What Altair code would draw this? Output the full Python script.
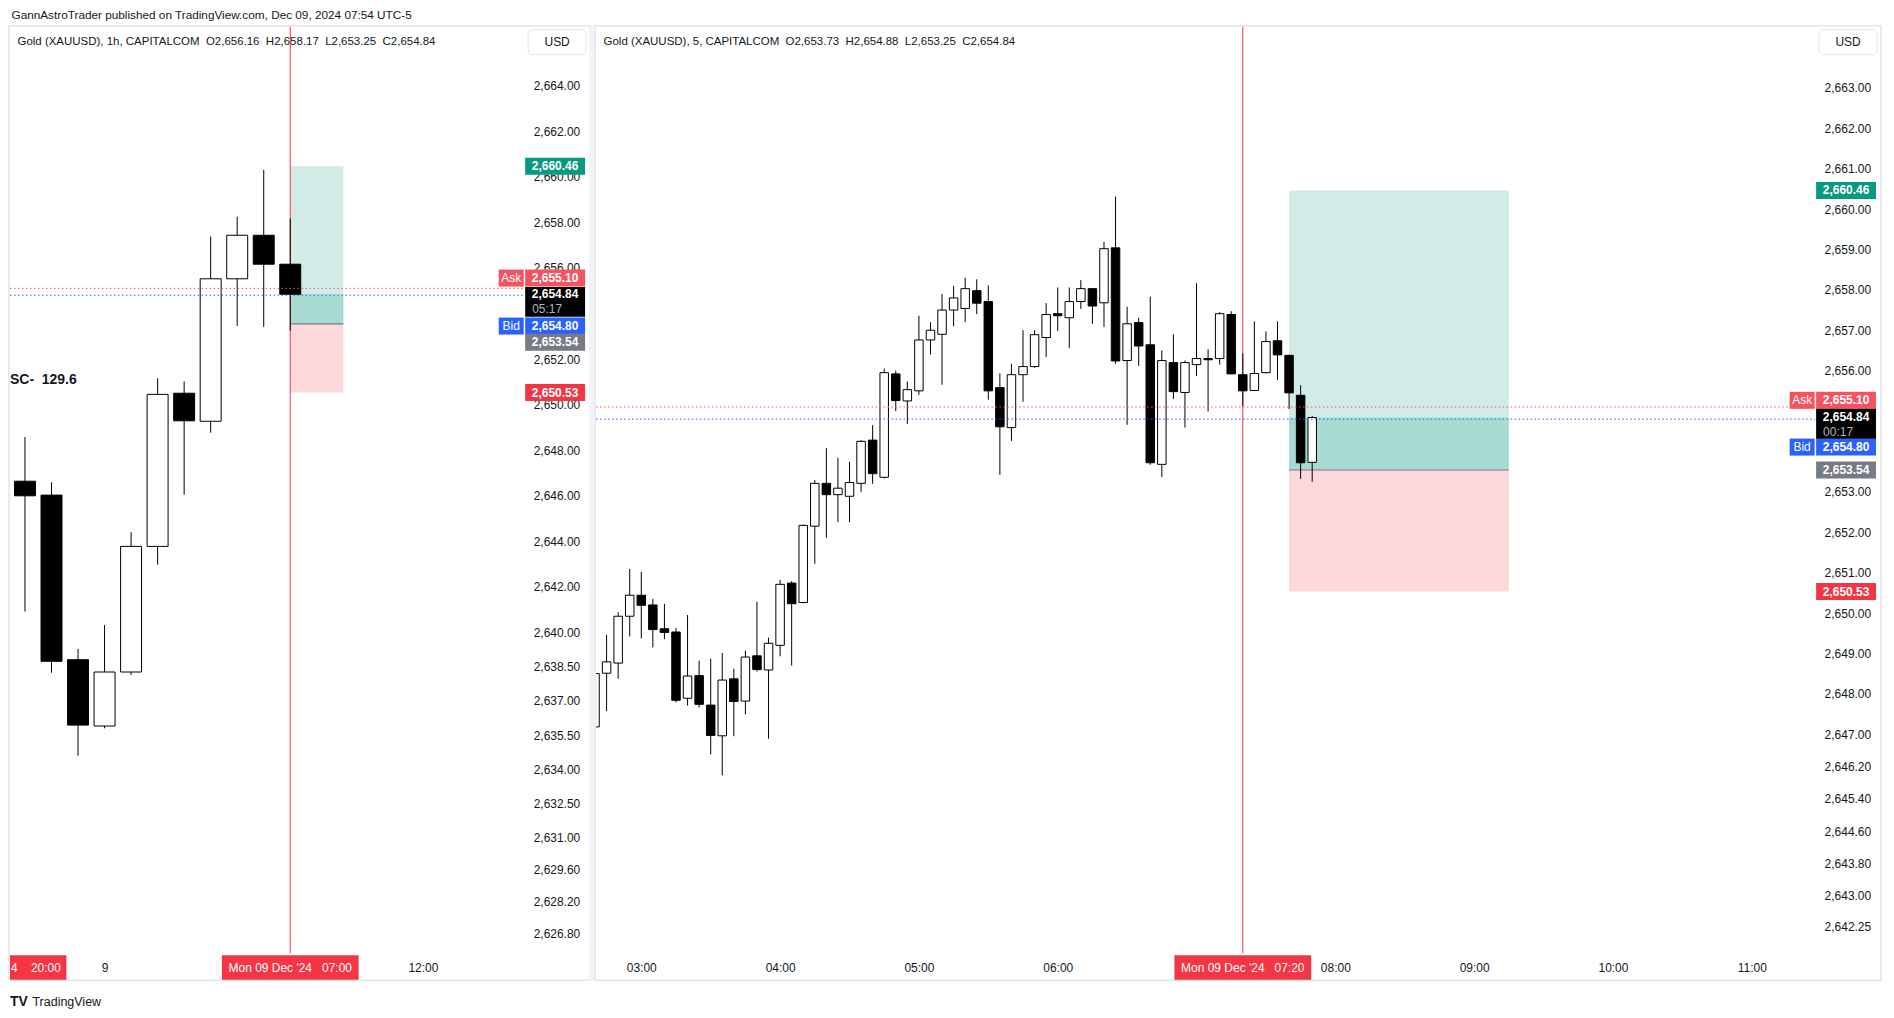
import altair as alt
import pandas as pd

FONT = "Liberation Sans"
INK = "#131722"
BORDER = "#e0e3eb"
SP = "\u00a0"

TOP_TEXT = "GannAstroTrader published on TradingView.com, Dec 09, 2024 07:54 UTC-5"
LEFT_HEADER = ("Gold (XAUUSD), 1h, CAPITALCOM" + SP * 2 + "O2,656.16" + SP * 2 + "H2,658.17" + SP * 2
               + "L2,653.25" + SP * 2 + "C2,654.84")
RIGHT_HEADER = ("Gold (XAUUSD), 5, CAPITALCOM" + SP * 2 + "O2,653.73" + SP * 2 + "H2,654.88" + SP * 2
                + "L2,653.25" + SP * 2 + "C2,654.84")

# ---------------- 1h candles ----------------
H1_TIME = ["2024-12-08T21:00:00", "2024-12-08T22:00:00", "2024-12-08T23:00:00",
           "2024-12-09T00:00:00", "2024-12-09T01:00:00", "2024-12-09T02:00:00",
           "2024-12-09T03:00:00", "2024-12-09T04:00:00", "2024-12-09T05:00:00",
           "2024-12-09T06:00:00", "2024-12-09T07:00:00"]
H1_OPEN = [2646.64, 2646.03, 2638.81, 2635.90, 2638.27, 2643.78, 2650.50, 2649.27, 2655.52, 2657.43, 2656.16]
H1_HIGH = [2648.58, 2646.59, 2639.28, 2640.33, 2644.40, 2651.16, 2651.02, 2657.38, 2658.24, 2660.30, 2658.17]
H1_LOW = [2640.92, 2638.24, 2634.60, 2635.80, 2638.15, 2642.98, 2646.05, 2648.77, 2653.45, 2653.41, 2653.25]
H1_CLOSE = [2646.00, 2638.74, 2635.94, 2638.27, 2643.78, 2650.45, 2649.29, 2655.52, 2657.43, 2656.16, 2654.84]

# ---------------- 5m candles ----------------
M5_TIME = ["02:40", "02:45", "02:50", "02:55", "03:00", "03:05", "03:10", "03:15", "03:20", "03:25",
           "03:30", "03:35", "03:40", "03:45", "03:50", "03:55", "04:00", "04:05", "04:10", "04:15",
           "04:20", "04:25", "04:30", "04:35", "04:40", "04:45", "04:50", "04:55", "05:00", "05:05",
           "05:10", "05:15", "05:20", "05:25", "05:30", "05:35", "05:40", "05:45", "05:50", "05:55",
           "06:00", "06:05", "06:10", "06:15", "06:20", "06:25", "06:30", "06:35", "06:40", "06:45",
           "06:50", "06:55", "07:00", "07:05", "07:10", "07:15", "07:20", "07:25", "07:30", "07:35",
           "07:40", "07:45", "07:50"]
M5_OPEN = [2647.18, 2648.51, 2648.76, 2649.92, 2650.44, 2650.20, 2649.61, 2649.53, 2647.89, 2648.45,
           2647.72, 2646.96, 2648.37, 2647.82, 2648.94, 2648.59, 2649.20, 2650.74, 2650.26, 2652.15,
           2653.21, 2652.93, 2652.89, 2653.21, 2654.28, 2653.36, 2655.92, 2655.25, 2655.50, 2656.76,
           2656.90, 2657.50, 2657.54, 2657.98, 2657.71, 2655.58, 2654.59, 2655.90, 2656.10, 2656.82,
           2657.41, 2657.31, 2657.71, 2658.03, 2657.68, 2659.04, 2656.25, 2657.19, 2656.64, 2653.68,
           2656.20, 2655.46, 2656.15, 2656.30, 2656.30, 2657.39, 2655.90, 2655.51, 2655.95, 2656.74,
           2656.38, 2655.39, 2653.73]
M5_HIGH = [2648.70, 2649.46, 2650.02, 2651.09, 2651.02, 2650.35, 2650.23, 2649.63, 2649.95, 2648.82,
           2648.87, 2649.01, 2648.62, 2649.07, 2650.28, 2649.39, 2650.82, 2650.79, 2652.19, 2653.29,
           2654.08, 2653.84, 2653.74, 2654.28, 2654.65, 2656.05, 2656.00, 2655.73, 2657.36, 2657.20,
           2657.90, 2658.10, 2658.30, 2658.26, 2658.11, 2655.93, 2656.17, 2657.00, 2657.00, 2657.67,
           2658.06, 2658.06, 2658.24, 2658.03, 2659.19, 2660.31, 2657.58, 2657.31, 2657.83, 2656.50,
           2656.90, 2656.25, 2658.16, 2656.53, 2657.45, 2657.47, 2656.43, 2657.22, 2656.97, 2657.22,
           2656.38, 2655.64, 2654.88]
M5_LOW = [2646.90, 2647.57, 2648.37, 2649.42, 2649.37, 2649.15, 2649.35, 2647.79, 2647.71, 2647.66,
          2646.50, 2645.98, 2646.95, 2647.49, 2648.55, 2646.89, 2648.93, 2648.70, 2650.24, 2651.22,
          2651.86, 2652.25, 2652.25, 2653.00, 2653.20, 2653.33, 2655.00, 2654.68, 2655.40, 2656.40,
          2655.65, 2657.10, 2657.20, 2657.40, 2655.28, 2653.42, 2654.26, 2655.23, 2656.07, 2656.34,
          2656.98, 2656.56, 2657.53, 2657.16, 2657.08, 2656.17, 2654.66, 2656.12, 2653.67, 2653.37,
          2655.30, 2654.59, 2655.87, 2654.99, 2656.15, 2655.92, 2655.13, 2655.51, 2655.93, 2655.77,
          2655.05, 2653.32, 2653.25]
M5_CLOSE = [2648.50, 2648.79, 2649.92, 2650.44, 2650.19, 2649.59, 2649.52, 2647.84, 2648.44, 2647.74,
            2646.97, 2648.34, 2647.81, 2648.91, 2648.60, 2649.25, 2650.71, 2650.23, 2652.17, 2653.21,
            2652.93, 2653.09, 2653.23, 2654.25, 2653.45, 2655.95, 2655.26, 2655.53, 2656.76, 2657.00,
            2657.50, 2657.80, 2658.03, 2657.67, 2655.50, 2654.61, 2655.90, 2656.10, 2656.89, 2657.39,
            2657.36, 2657.71, 2658.03, 2657.60, 2659.02, 2656.24, 2657.16, 2656.61, 2653.72, 2656.25,
            2655.48, 2656.20, 2656.30, 2656.27, 2657.41, 2655.92, 2655.50, 2655.93, 2656.72, 2656.39,
            2655.45, 2653.72, 2654.84]

# ---------------- price levels ----------------
TP = 2660.46
ENTRY = 2653.54
SL = 2650.53
ASK = 2655.10
BID = 2654.80
LAST = 2654.84

LEFT_YTICKS = [2664.0, 2662.0, 2660.0, 2658.0, 2656.0, 2652.0, 2650.0, 2648.0, 2646.0,
               2644.0, 2642.0, 2640.0, 2638.5, 2637.0, 2635.5, 2634.0, 2632.5, 2631.0, 2629.6,
               2628.2, 2626.8]
RIGHT_YTICKS = [2663.0, 2662.0, 2661.0, 2660.0, 2659.0, 2658.0, 2657.0, 2656.0,
                2653.0, 2652.0, 2651.0, 2650.0, 2649.0, 2648.0, 2647.0, 2646.2, 2645.4, 2644.6,
                2643.8, 2643.0, 2642.25]


def dt(d, h, m=0, s=0):
    return alt.DateTime(year=2024, month=12, date=d, hours=h, minutes=m, seconds=s)


LEFT_XTICKS = [dt(9, 0), dt(9, 12)]
RIGHT_XTICKS = [dt(9, 3), dt(9, 4), dt(9, 5), dt(9, 6), dt(9, 8), dt(9, 9), dt(9, 10), dt(9, 11)]

one = pd.DataFrame({"k": [0]})


def level_df(price):
    return pd.DataFrame({"p": [price]})


def panel(times, O, Hi, Lo, C, W, H, xdom, ydom, bw, xticks, yticks, lexpr,
          box_start, box_end, vline_t, vline_label, countdown,
          dy_ask, dy_bid, dy_entry, dy_last, header, extra):
    xsc = alt.Scale(domain=xdom, nice=False, padding=0)
    ysc = alt.Scale(domain=ydom, nice=False, zero=False, padding=0)
    xaxis = alt.Axis(values=xticks, labelExpr=lexpr, title=None, ticks=False, tickSize=0, domain=False,
                     grid=False, labelPadding=14.5, labelBaseline="middle", labelFont=FONT, labelFontSize=12,
                     labelColor=INK, labelFlush=False, labelOverlap=False)
    yaxis = alt.Axis(values=yticks, orient="right", format=",.2f", title=None, ticks=False, tickSize=0,
                     domain=False, grid=False, labelPadding=9, labelAlign="left", labelBaseline="middle",
                     labelFont=FONT, labelFontSize=12, labelColor=INK, labelFlush=False, labelOverlap=False)
    cdf = pd.DataFrame({"t": times, "open": O, "high": Hi, "low": Lo, "close": C})
    X = lambda f: alt.X(f, type="temporal", scale=xsc, axis=xaxis)
    Y = lambda f: alt.Y(f, type="quantitative", scale=ysc, axis=yaxis)

    layers = []
    # panel border (no fill, so the axes stay visible)
    layers.append(alt.Chart(one).mark_rect(fill="white", fillOpacity=0, stroke=BORDER, strokeWidth=1.5).encode(
        x=alt.value(-1), x2=alt.value(W + 66), y=alt.value(-1), y2=alt.value(H + 27)))

    # position boxes
    bdf = pd.DataFrame({"s": [box_start] * 4, "e": [box_end] * 4,
                        "lo": [ENTRY, SL, ENTRY, ENTRY], "hi": [TP, ENTRY, LAST, ENTRY],
                        "c": ["tp", "sl", "ov", "en"]})
    layers.append(alt.Chart(bdf).transform_filter("datum.c != 'en'").mark_rect(clip=True).encode(
        x=X("s"), x2="e:T", y=Y("lo"), y2="hi:Q",
        fill=alt.Fill("c:N", scale=alt.Scale(domain=["tp", "sl", "ov"],
                                              range=["#d1ece6", "#fcd8db", "#a7dbd2"]), legend=None)))
    layers.append(alt.Chart(bdf).transform_filter("datum.c == 'en'").mark_rule(
        color="#787b86", strokeWidth=1.2, clip=True).encode(x=X("s"), x2="e:T", y=Y("lo")))

    # vertical red line
    layers.append(alt.Chart(pd.DataFrame({"t": [vline_t]})).mark_rule(color="#f23645", strokeWidth=1).encode(
        x=X("t")))

    # candles
    layers.append(alt.Chart(cdf).mark_rule(color="#000000", strokeWidth=1, clip=True).encode(
        x=X("t"), y=Y("low"), y2="high:Q"))
    layers.append(alt.Chart(cdf).mark_bar(size=bw, stroke="#000000", strokeWidth=1, clip=True,
                                          opacity=1).encode(
        x=X("t"), y=Y("open"), y2="close:Q",
        fill=alt.condition(alt.datum.close < alt.datum.open, alt.value("#000000"), alt.value("#ffffff"))))

    # ask / bid dotted lines
    layers.append(alt.Chart(level_df(ASK)).mark_rule(color="#f7525f", strokeWidth=1, strokeDash=[1.5, 2.5]).encode(
        y=Y("p"), x=alt.value(0), x2=alt.value(W)))
    layers.append(alt.Chart(level_df(BID)).mark_rule(color="#2962ff", strokeWidth=1, strokeDash=[1.5, 2.5]).encode(
        y=Y("p"), x=alt.value(0), x2=alt.value(W)))

    # in-plot Ask / Bid labels
    for price, dyv, col, txt in [(ASK, dy_ask, "#f7525f", "Ask"), (BID, dy_bid, "#2962ff", "Bid")]:
        layers.append(alt.Chart(level_df(price)).mark_tick(size=25, thickness=17, yOffset=dyv, opacity=1,
                                                           color=col).encode(y=Y("p"), x=alt.value(W - 13)))
        layers.append(alt.Chart(level_df(price)).mark_text(font=FONT, fontSize=12, color="white", dy=dyv,
                                                           baseline="middle").encode(
            y=Y("p"), x=alt.value(W - 13), text=alt.value(txt)))

    # price tags on the axis
    tags = [(TP, 0, "#089981", "2,660.46"), (SL, 0, "#f23645", "2,650.53"),
            (ASK, dy_ask, "#f7525f", "2,655.10"), (BID, dy_bid, "#2962ff", "2,654.80"),
            (ENTRY, dy_entry, "#787b86", "2,653.54")]
    for price, dyv, col, txt in tags:
        layers.append(alt.Chart(level_df(price)).mark_tick(size=60, thickness=17, yOffset=dyv, opacity=1,
                                                           color=col).encode(y=Y("p"), x=alt.value(W + 31)))
        layers.append(alt.Chart(level_df(price)).mark_text(font=FONT, fontSize=12, fontWeight="bold",
                                                           color="white", dy=dyv, baseline="middle").encode(
            y=Y("p"), x=alt.value(W + 31), text=alt.value(txt)))
    layers.append(alt.Chart(level_df(LAST)).mark_tick(size=60, thickness=30, yOffset=dy_last, opacity=1,
                                                      color="#000000").encode(y=Y("p"), x=alt.value(W + 31)))
    layers.append(alt.Chart(level_df(LAST)).mark_text(font=FONT, fontSize=12, fontWeight="bold",
                                                      color="white", baseline="middle").encode(
        y=Y("p"), x=alt.value(W + 31), text=alt.value("2,654.84")))
    layers.append(alt.Chart(level_df(LAST)).mark_text(font=FONT, fontSize=12, color="#b2b5be", dy=14.5,
                                                      align="left", baseline="middle").encode(
        y=Y("p"), x=alt.value(W + 8), text=alt.value(countdown)))

    # red time label on the time axis
    shape = "M-1,-0.1788L1,-0.1788L1,0.1788L-1,0.1788Z"
    layers.append(alt.Chart(pd.DataFrame({"t": [vline_t]})).mark_point(
        shape=shape, size=18769, filled=True, opacity=1, color="#f23645", strokeWidth=0).encode(
        x=X("t"), y=alt.value(H + 14.2)))
    layers.append(alt.Chart(pd.DataFrame({"t": [vline_t]})).mark_text(
        font=FONT, fontSize=12, color="white", baseline="middle").encode(
        x=X("t"), y=alt.value(H + 14.5), text=alt.value(vline_label)))

    # header + USD button
    layers.append(alt.Chart(one).mark_text(font=FONT, fontSize=11.5, color=INK, align="left",
                                           baseline="middle").encode(
        x=alt.value(7.5), y=alt.value(15), text=alt.value(header)))
    layers.append(alt.Chart(one).mark_rect(fill="white", stroke=BORDER, strokeWidth=1, cornerRadius=4).encode(
        x=alt.value(W + 4), x2=alt.value(W + 62), y=alt.value(3), y2=alt.value(28)))
    layers.append(alt.Chart(one).mark_text(font=FONT, fontSize=12, color=INK, baseline="middle").encode(
        x=alt.value(W + 33), y=alt.value(15.5), text=alt.value("USD")))

    layers += extra(W, H)
    return alt.layer(*layers).properties(width=W, height=H)


def left_extra(W, H):
    return [
        alt.Chart(one).mark_text(font=FONT, fontSize=11.8, color=INK, align="left", baseline="middle").encode(
            x=alt.value(1.5), y=alt.value(-12), text=alt.value(TOP_TEXT)),
        alt.Chart(one).mark_text(font=FONT, fontSize=14, fontWeight="bold", color=INK, align="left",
                                 baseline="middle").encode(
            x=alt.value(0), y=alt.value(354), text=alt.value("SC-" + SP * 2 + "129.6")),
        alt.Chart(one).mark_rect(fill="#f23645").encode(
            x=alt.value(0), x2=alt.value(56.5), y=alt.value(H + 2), y2=alt.value(H + 26.5)),
        alt.Chart(one).mark_text(font=FONT, fontSize=12, color="white", align="left", baseline="middle").encode(
            x=alt.value(1), y=alt.value(H + 14.5), text=alt.value("4" + SP * 4 + "20:00")),
        alt.Chart(one).mark_text(font=FONT, fontSize=14, fontWeight="bold", color=INK, align="left",
                                 baseline="middle").encode(
            x=alt.value(0), y=alt.value(H + 48.5), text=alt.value("TV")),
        alt.Chart(one).mark_text(font=FONT, fontSize=12.5, color=INK, align="left", baseline="middle").encode(
            x=alt.value(22.5), y=alt.value(H + 48.5), text=alt.value("TradingView")),
    ]


def right_extra(W, H):
    return [
        alt.Chart(one).mark_rect(fill="#f0f3fa").encode(
            x=alt.value(-7), x2=alt.value(-1.5), y=alt.value(-1), y2=alt.value(H + 27)),
    ]


H = 928
WL = 515
WR = 1221

left = panel(H1_TIME, H1_OPEN, H1_HIGH, H1_LOW, H1_CLOSE, WL, H,
             [dt(8, 20, 26, 7), dt(9, 15, 49, 6)], [2625.93, 2666.576], 21,
             LEFT_XTICKS, LEFT_YTICKS,
             "hours(datum.value) == 0 ? '' + date(datum.value) : timeFormat(datum.value, '%H:%M')",
             "2024-12-09T07:00:00", "2024-12-09T09:00:00", "2024-12-09T07:00:00",
             "Mon 09 Dec '24" + SP * 3 + "07:00", "05:17",
             -10.3, 30.9, 18.4, 7.6, LEFT_HEADER, left_extra)

right = panel(["2024-12-09T" + t + ":00" for t in M5_TIME], M5_OPEN, M5_HIGH, M5_LOW, M5_CLOSE, WR, H,
              [dt(9, 2, 40, 27), dt(9, 11, 27, 23)], [2641.576, 2664.513], 8.5,
              RIGHT_XTICKS, RIGHT_YTICKS, "timeFormat(datum.value, '%H:%M')",
              "2024-12-09T07:40:00", "2024-12-09T09:15:00", "2024-12-09T07:20:00",
              "Mon 09 Dec '24" + SP * 3 + "07:20", "00:17",
              -6.7, 28.0, 0.0, 6.2, RIGHT_HEADER, right_extra)

chart = alt.hconcat(left, right, spacing=72, bounds="flush").properties(
    padding={"left": 0, "top": 1, "right": 4, "bottom": 4}
).configure_view(stroke=None)

chart.save("out.html", embed_options={"renderer": "svg", "actions": False})
